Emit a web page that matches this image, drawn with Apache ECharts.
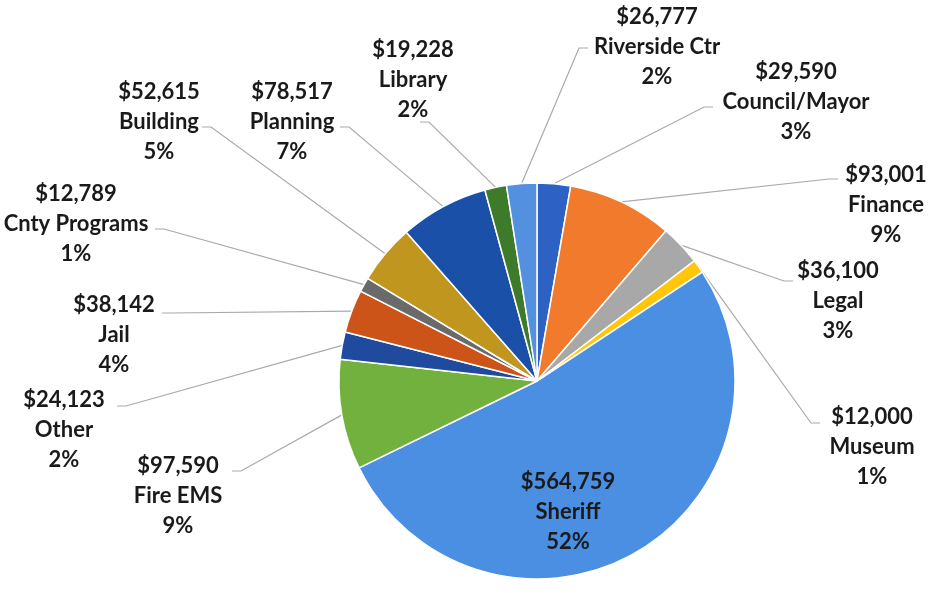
<!DOCTYPE html>
<html>
<head>
<meta charset="utf-8">
<script src="https://cdn.jsdelivr.net/npm/echarts@6/dist/echarts.min.js"></script>
<style>
  html, body { margin: 0; padding: 0; background: #fff; }
  #chart { width: 932px; height: 593px; }
</style>
</head>
<body>
<div id="chart"></div>
<script>
// budget by department, clockwise from 12 o'clock
const categories = ['Council/Mayor', 'Finance', 'Legal', 'Museum', 'Sheriff', 'Fire EMS', 'Other',
  'Jail', 'Cnty Programs', 'Building', 'Planning', 'Library', 'Riverside Ctr'];
const amounts = [29590, 93001, 36100, 12000, 564759, 97590, 24123, 38142, 12789, 52615, 78517, 19228, 26777];
const colors = ['#2D62C4', '#F27A2C', '#A8A8A8', '#FFC60A', '#4A8FE2', '#73B13F', '#1F4A9E',
  '#CC5419', '#6A6A6A', '#C0961F', '#1B50A8', '#3D7A2A', '#5390E0'];

// where the labels sit (centre of the middle text line) and where the leader line meets them
const labelAt = [[796, 102], [886, 205], [838, 301], [872, 447], [568, 512], [178, 496], [64, 430],
  [114, 335], [76, 224], [159, 122], [292, 122], [413, 80], [657, 47]];
const lineEnd = [[713, 107], [838, 179], [793, 281], [820, 423], null, [232, 471], [117, 406],
  [162, 313], [155, 229], [202, 127], [340, 127], [420, 122], [588, 48]];

const pieCenter = [537, 381];
const pieRadius = 198;

const fmt = (v) => '$' + v.toLocaleString('en-US');

const chart = echarts.init(document.getElementById('chart'));
chart.setOption({
  backgroundColor: '#fff',
  animation: false,
  series: [
    {
      type: 'pie',
      center: pieCenter,
      radius: pieRadius,
      startAngle: 90,
      clockwise: true,
      avoidLabelOverlap: false,
      itemStyle: { borderColor: '#fff', borderWidth: 1.5 },
      label: {
        show: true,
        position: 'outside',
        width: 200,
        color: '#1a1a1a',
        fontFamily: 'Lato',
        fontWeight: 'bold',
        fontSize: 22,
        lineHeight: 30,
        align: 'center',
        formatter: (p) => fmt(p.value) + '\n' + p.name + '\n' + Math.round(p.percent) + '%',
      },
      labelLine: {
        show: true,
        lineStyle: { color: '#a9a9a9', width: 1.2 },
      },
      labelLayout: (params) => {
        const i = params.dataIndex;
        const res = {
          x: labelAt[i][0],
          y: labelAt[i][1],
          align: 'center',
          verticalAlign: 'middle',
        };
        const end = lineEnd[i];
        if (end && params.labelLinePoints) {
          const start = params.labelLinePoints[0];
          const elbow = [end[0] + (end[0] < pieCenter[0] ? 9 : -9), end[1]];
          res.labelLinePoints = [start, elbow, end];
        }
        return res;
      },
      data: categories.map((name, i) => {
        const d = { name: name, value: amounts[i], itemStyle: { color: colors[i] } };
        if (name === 'Sheriff') {
          d.label = { position: 'inside' };
          d.labelLine = { show: false };
        }
        return d;
      }),
    },
  ],
});
</script>
</body>
</html>
